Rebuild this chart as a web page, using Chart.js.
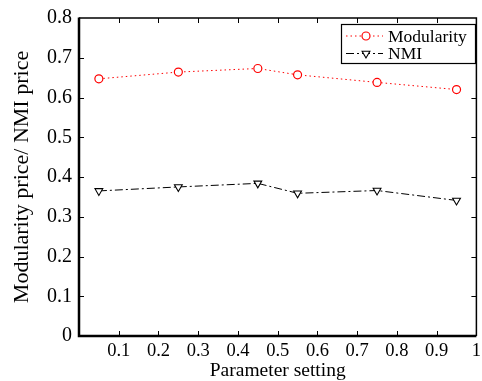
<!DOCTYPE html>
<html>
<head>
<meta charset="utf-8">
<script src="https://cdn.jsdelivr.net/npm/chart.js@4/dist/chart.umd.min.js"></script>
<style>
	body { margin: 0; background: #fff; }
	#wrap { width: 482px; height: 381px; }
</style>
</head>
<body>
<div id="wrap"><canvas id="paramChart" width="482" height="381"></canvas></div>
<script>
const paramX = [0.05, 0.25, 0.45, 0.55, 0.75, 0.95];
const modularity = [0.647, 0.664, 0.673, 0.657, 0.638, 0.62];
const nmi = [0.365, 0.375, 0.384, 0.359, 0.366, 0.341];
const xTicks = [0, 0.1, 0.2, 0.3, 0.4, 0.5, 0.6, 0.7, 0.8, 0.9, 1];
const yTicks = [0, 0.1, 0.2, 0.3, 0.4, 0.5, 0.6, 0.7, 0.8];

const serif = '"Liberation Serif", "Times New Roman", serif';
const toPoints = (ys) => paramX.map((x, i) => ({ x: x, y: ys[i] }));

// 四周的框和向内的刻度
const frame = {
	id: 'frame',
	afterDraw(chart) {
		const { ctx, chartArea: { left, right, top, bottom }, scales: { x, y } } = chart;
		const tl = 5;
		ctx.save();
		ctx.strokeStyle = '#000';
		ctx.lineWidth = 1;
		xTicks.slice(1, -1).forEach((v) => {
			const px = Math.round(x.getPixelForValue(v)) + 0.5;
			ctx.beginPath();
			ctx.moveTo(px, bottom); ctx.lineTo(px, bottom - tl);
			ctx.moveTo(px, top); ctx.lineTo(px, top + tl);
			ctx.stroke();
		});
		yTicks.slice(1, -1).forEach((v) => {
			const py = Math.round(y.getPixelForValue(v)) + 0.5;
			ctx.beginPath();
			ctx.moveTo(left, py); ctx.lineTo(left + tl, py);
			ctx.moveTo(right, py); ctx.lineTo(right - tl, py);
			ctx.stroke();
		});
		ctx.lineWidth = 1.5;
		ctx.beginPath();
		ctx.moveTo(left, top); ctx.lineTo(right, top); ctx.lineTo(right, bottom);
		ctx.stroke();
		ctx.lineWidth = 2.5;
		ctx.beginPath();
		ctx.moveTo(left, top - 0.5); ctx.lineTo(left, bottom); ctx.lineTo(right, bottom);
		ctx.stroke();
		ctx.restore();
	},
};

// 图内右上角的图例
const boxLegend = {
	id: 'boxLegend',
	afterDraw(chart) {
		const { ctx } = chart;
		const bx = 341.5, by = 24.5, bw = 134, bh = 39;
		ctx.save();
		ctx.fillStyle = '#fff';
		ctx.fillRect(bx, by, bw, bh);
		ctx.strokeStyle = '#000';
		ctx.lineWidth = 1.2;
		ctx.strokeRect(bx, by, bw, bh);
		chart.data.datasets.forEach((ds, i) => {
			const cy = 36 + i * 17.5;
			ctx.strokeStyle = ds.borderColor;
			ctx.lineWidth = ds.borderWidth;
			ctx.setLineDash(ds.borderDash);
			ctx.beginPath();
			ctx.moveTo(346, cy); ctx.lineTo(383, cy);
			ctx.stroke();
			ctx.setLineDash([]);
			ctx.fillStyle = ds.pointBackgroundColor;
			ctx.strokeStyle = ds.pointBorderColor;
			ctx.lineWidth = ds.pointBorderWidth;
			Chart.helpers.drawPoint(ctx, {
				pointStyle: ds.pointStyle,
				radius: ds.pointRadius,
				rotation: ds.pointRotation || 0,
				borderWidth: ds.pointBorderWidth,
			}, 366, cy);
			ctx.fillStyle = '#000';
			ctx.font = '17.5px ' + serif;
			ctx.textBaseline = 'middle';
			ctx.fillText(ds.label, 388, cy + 1);
		});
		ctx.restore();
	},
};

new Chart(document.getElementById('paramChart'), {
	type: 'line',
	data: {
		datasets: [
			{
				label: 'Modularity',
				data: toPoints(modularity),
				borderColor: '#ff0000',
				borderWidth: 1,
				borderDash: [1.5, 3],
				pointStyle: 'circle',
				pointRadius: 4,
				pointBorderWidth: 1.2,
				pointBorderColor: '#ff0000',
				pointBackgroundColor: '#fff',
				tension: 0,
			},
			{
				label: 'NMI',
				data: toPoints(nmi),
				borderColor: '#000',
				borderWidth: 1,
				borderDash: [8, 3, 2, 3],
				pointStyle: 'triangle',
				pointRotation: 180,
				pointRadius: 4.5,
				pointBorderWidth: 1.1,
				pointBorderColor: '#000',
				pointBackgroundColor: '#fff',
				tension: 0,
			},
		],
	},
	plugins: [frame, boxLegend],
	options: {
		responsive: false,
		animation: false,
		layout: { padding: { top: 18, right: 1, left: 0, bottom: 0 } },
		plugins: {
			legend: { display: false },
			tooltip: { enabled: false },
		},
		scales: {
			x: {
				type: 'linear',
				min: 0,
				max: 1,
				afterBuildTicks: (scale) => { scale.ticks = xTicks.map((v) => ({ value: v })); },
				afterFit: (scale) => {
					scale.height = 45;
					scale.paddingLeft = 0;
					scale.paddingRight = 0;
				},
				grid: { display: false, drawTicks: false },
				border: { display: false },
				ticks: {
					color: '#000',
					padding: 4,
					maxRotation: 0,
					autoSkip: false,
					font: { family: serif, size: 18.5 },
					callback: (v) => (v === 0 ? '' : String(Math.round(v * 10) / 10)),
				},
				title: {
					display: true,
					text: 'Parameter setting',
					color: '#000',
					padding: { top: 0, bottom: -2 },
					font: { family: serif, size: 19.5 },
				},
			},
			y: {
				min: 0,
				max: 0.8,
				afterBuildTicks: (scale) => { scale.ticks = yTicks.map((v) => ({ value: v })); },
				afterFit: (scale) => {
					scale.width = 79;
					scale.paddingTop = 0;
					scale.paddingBottom = 0;
				},
				grid: { display: false, drawTicks: false },
				border: { display: false },
				ticks: {
					color: '#000',
					padding: 7,
					autoSkip: false,
					font: { family: serif, size: 20 },
					callback: (v) => String(Math.round(v * 10) / 10),
				},
				title: {
					display: true,
					text: 'Modularity price/ NMI price',
					color: '#000',
					padding: { top: 9, bottom: 0 },
					font: { family: serif, size: 22 },
				},
			},
		},
	},
});
</script>
</body>
</html>
